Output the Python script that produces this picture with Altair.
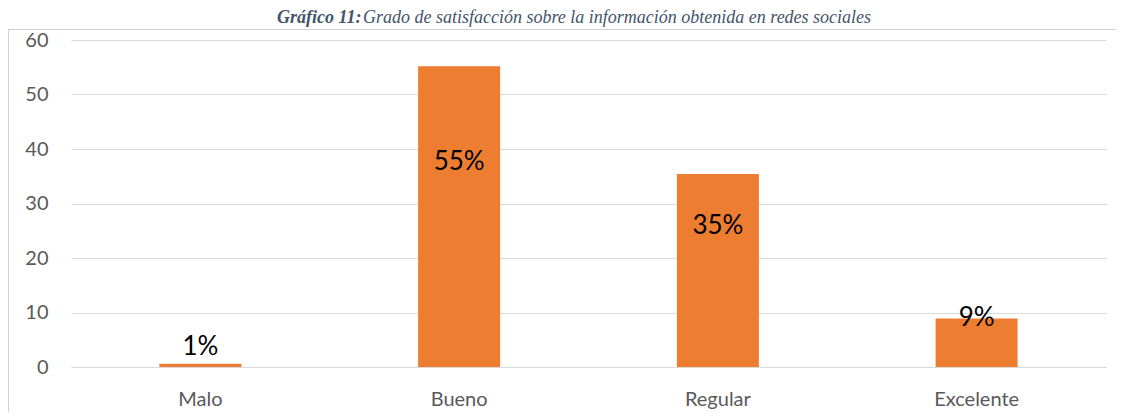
import altair as alt
import pandas as pd

categories = ["Malo", "Bueno", "Regular", "Excelente"]
values = [0.6, 55.2, 35.4, 8.9]
labels = ["1%", "55%", "35%", "9%"]
label_at = [3.6, 37.6, 25.9, 8.9]
y_ticks = [0, 10, 20, 30, 40, 50, 60]
title_bold = "Gráfico 11:"
title_rest = "Grado de satisfacción sobre la información obtenida en redes sociales"

df = pd.DataFrame({"cat": categories, "value": values, "label": labels, "label_at": label_at})

x_enc = alt.X(
    "cat:N", sort=categories, title=None,
    scale=alt.Scale(paddingInner=0.683, paddingOuter=0.3415),
    axis=alt.Axis(labelAngle=0, labelFont="Lato", labelFontSize=20, labelColor="#595959",
                  domainColor="#d9d9d9", domainWidth=1, ticks=False, tickSize=0,
                  labelPadding=22, grid=False),
)
y_enc = alt.Y(
    "value:Q", title=None,
    scale=alt.Scale(domain=[0, 60], nice=False),
    axis=alt.Axis(values=y_ticks, labelFont="Lato", labelFontSize=20, labelColor="#595959",
                  domain=False, ticks=False, tickSize=0, labelPadding=23,
                  gridColor="#d9d9d9", gridWidth=1),
)

bars = alt.Chart(df).mark_bar(color="#ED7D31").encode(x=x_enc, y=y_enc)

text = alt.Chart(df).mark_text(font="Lato", fontSize=26, color="#000000", baseline="middle",
                               align="center").encode(
    x=alt.X("cat:N", sort=categories),
    y=alt.Y("label_at:Q"),
    text="label:N",
)

border = alt.Chart(alt.Data(values=[{}])).mark_rect(
    fill=None, stroke="#d0d0d0", strokeWidth=1
).encode(x=alt.value(-62.5), x2=alt.value(1100), y=alt.value(-10.5), y2=alt.value(500))

t1 = alt.Chart(alt.Data(values=[{"t": title_bold}])).mark_text(
    font="Liberation Serif", fontSize=18, fontStyle="italic", fontWeight="bold",
    color="#44546A", align="left", baseline="alphabetic"
).encode(x=alt.value(206), y=alt.value(-17), text="t:N")

t2 = alt.Chart(alt.Data(values=[{"t": title_rest}])).mark_text(
    font="Liberation Serif", fontSize=18, fontStyle="italic",
    color="#44546A", align="left", baseline="alphabetic"
).encode(x=alt.value(292), y=alt.value(-17), text="t:N")

chart = alt.layer(border, bars, text, t1, t2).properties(
    width=1035, height=327,
    padding={"left": 63, "top": 32, "right": 10, "bottom": 45},
    autosize=alt.AutoSizeParams(type="none"),
    background="white",
).configure_view(stroke=None)

chart.save("out.html", embed_options={"renderer": "svg", "actions": False})
